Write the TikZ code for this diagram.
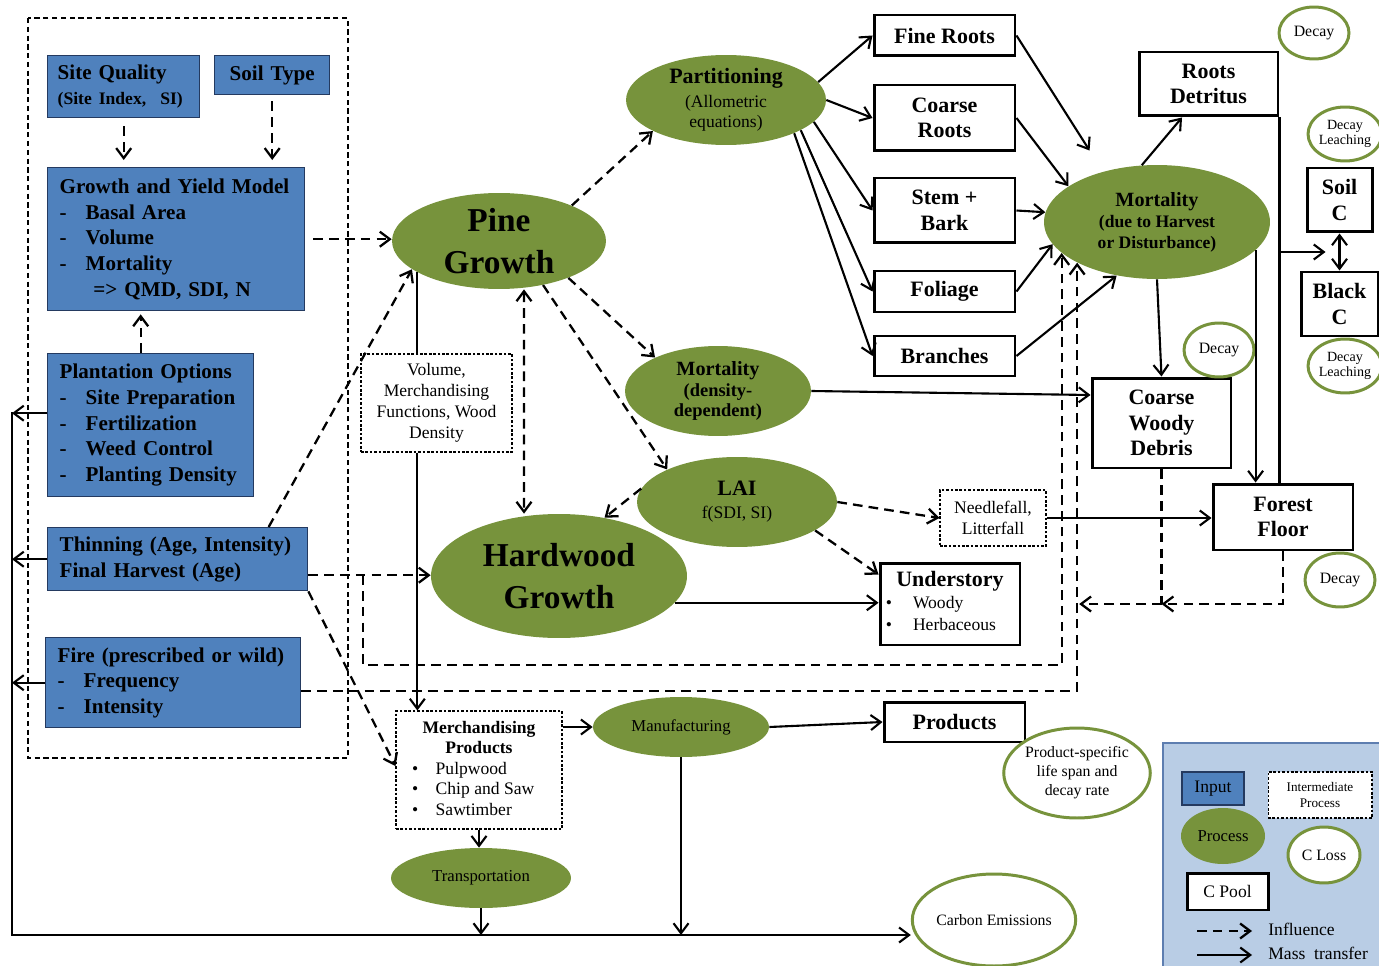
\documentclass[tikz,border=0pt]{standalone}
\usepackage{fontspec}
\setmainfont{Liberation Serif}
\usetikzlibrary{shapes.geometric,arrows.meta,calc}

\definecolor{inputblue}{RGB}{79,129,189}
\definecolor{inputline}{RGB}{36,58,96}
\definecolor{procgreen}{RGB}{119,147,60}
\definecolor{legendblue}{RGB}{185,205,229}
\definecolor{legendline}{RGB}{94,126,176}

\newcommand{\dashitem}{-\hspace{0.9em}}

\tikzset{
	>={Straight Barb[length=2mm,width=3mm]},
	inputbox/.style={draw=inputline, line width=0.8pt, fill=inputblue, align=left, inner xsep=0.24cm, inner ysep=0pt, font=\bfseries\fontsize{12}{14.6}\selectfont},
	process/.style={ellipse, fill=procgreen, inner sep=0pt, align=center},
	pool/.style={draw, line width=1.7pt, fill=white, inner sep=0pt, align=center, font=\bfseries\fontsize{12.5}{14.6}\selectfont},
	closs/.style={ellipse, draw=procgreen, line width=1.7pt, fill=white, inner sep=0pt, align=center, font=\fontsize{9}{10.8}\selectfont},
	interm/.style={draw, line width=0.6pt, dash pattern=on 1.5pt off 1pt, fill=white, inner sep=0pt, align=center, font=\fontsize{10}{11.9}\selectfont},
	infl/.style={->, line width=1.3pt, dash pattern=on 5.5pt off 3.5pt},
	mass/.style={->, line width=1.2pt}
}

\begin{document}
\begin{tikzpicture}[x=0.02cm, y=-0.02cm]
	\useasboundingbox ( 0, 0 ) rectangle ( 1379, 966 );

	% рамка входных данных
	\draw [dash pattern=on 3pt off 2pt, line width=0.7pt] ( 28, 18 ) rectangle ( 348, 758 );

	% входные данные
	\node [inputbox, anchor=north west, inner xsep=0.2cm, text width=2.64cm, minimum height=1.24cm] (sq) at ( 47, 55 ) {Site Quality\\{\fontsize{10}{12}\selectfont (Site Index,\ \ SI)}};
	\node [inputbox, anchor=north west, text width=1.82cm, minimum height=0.78cm, align=center] (soil) at ( 214, 55 ) {Soil Type};
	\node [inputbox, anchor=north west, text width=4.66cm, minimum height=2.86cm] (gym) at ( 47, 167 ) {Growth and Yield Model\\\dashitem Basal Area\\\dashitem Volume\\\dashitem Mortality\\\hspace*{1.6em}=> QMD, SDI, N};
	\node [inputbox, anchor=north west, text width=3.64cm, minimum height=2.86cm] (plant) at ( 47, 353 ) {Plantation Options\\\dashitem Site Preparation\\\dashitem Fertilization\\\dashitem Weed Control\\\dashitem Planting Density};
	\node [inputbox, anchor=north west, text width=4.72cm, minimum height=1.26cm] (thin) at ( 47, 527 ) {Thinning (Age, Intensity)\\Final Harvest (Age)};
	\node [inputbox, anchor=north west, text width=4.62cm, minimum height=1.80cm] (fire) at ( 45, 637 ) {Fire (prescribed or wild)\\\dashitem Frequency\\\dashitem Intensity};

	% процессы
	\node [process, minimum width=4.28cm, minimum height=1.92cm, font=\bfseries\fontsize{19}{23.5}\selectfont] (pine) at ( 499, 241 ) {Pine\\Growth};
	\node [process, minimum width=5.12cm, minimum height=2.48cm, font=\bfseries\fontsize{19}{23.5}\selectfont] (hard) at ( 559, 576 ) {Hardwood\\Growth};
	\node [process, minimum width=4.00cm, minimum height=1.80cm, font=\fontsize{10}{11.5}\selectfont] (part) at ( 726, 100 ) {{\bfseries\fontsize{12.5}{14}\selectfont Partitioning}\\[2pt](Allometric\\equations)};
	\node [process, minimum width=3.72cm, minimum height=1.80cm, font=\bfseries\fontsize{10.5}{11.9}\selectfont] (mortd) at ( 718, 391 ) {{\fontsize{11.5}{12}\selectfont Mortality}\\(density-\\dependent)};
	\node [process, minimum width=4.00cm, minimum height=1.80cm, font=\fontsize{10}{12}\selectfont] (lai) at ( 737, 502 ) {{\bfseries\fontsize{12.5}{14}\selectfont LAI}\\[1pt]f(SDI, SI)};
	\node [process, minimum width=4.52cm, minimum height=2.28cm, font=\bfseries\fontsize{10}{11.9}\selectfont] (morth) at ( 1157, 222 ) {{\fontsize{11.5}{12}\selectfont Mortality}\\(due to Harvest\\or Disturbance)};
	\node [process, minimum width=3.52cm, minimum height=1.20cm, font=\fontsize{9.5}{11}\selectfont] (manu) at ( 681, 727 ) {Manufacturing};
	\node [process, minimum width=3.60cm, minimum height=1.20cm, font=\fontsize{9.5}{11}\selectfont] (trans) at ( 481, 878 ) {Transportation};

	% промежуточные процессы
	\node [interm, minimum width=3.02cm, minimum height=1.96cm] (vol) at ( 436.5, 403 ) {Volume,\\Merchandising\\Functions, Wood\\Density};
	\node [interm, minimum width=2.12cm, minimum height=1.12cm] (needle) at ( 993, 518 ) {Needlefall,\\Litterfall};
	\node [interm, minimum width=3.32cm, minimum height=2.36cm, font=\fontsize{10}{11.7}\selectfont] (merch) at ( 479, 770 ) {\begin{tabular}{@{}c@{\hspace{10pt}}l@{}}\multicolumn{2}{c}{\bfseries Merchandising}\\\multicolumn{2}{c}{\bfseries Products}\\\textbullet & Pulpwood\\\textbullet & Chip and Saw\\\textbullet & Sawtimber\end{tabular}};

	% пулы углерода
	\node [pool, minimum width=2.82cm, minimum height=0.82cm] (fine) at ( 944.5, 35.5 ) {Fine Roots};
	\node [pool, minimum width=2.82cm, minimum height=1.32cm] (coarse) at ( 944.5, 118 ) {Coarse\\Roots};
	\node [pool, minimum width=2.82cm, minimum height=1.30cm] (stem) at ( 944.5, 210.5 ) {Stem +\\Bark};
	\node [pool, minimum width=2.82cm, minimum height=0.82cm] (foliage) at ( 944.5, 291.5 ) {Foliage};
	\node [pool, minimum width=2.82cm, minimum height=0.80cm] (branch) at ( 944.5, 356 ) {Branches};
	\node [pool, minimum width=2.78cm, minimum height=1.28cm] (rootsd) at ( 1208.5, 84 ) {Roots\\Detritus};
	\node [pool, minimum width=1.30cm, minimum height=1.28cm] (soilc) at ( 1339.5, 200 ) {Soil\\C};
	\node [pool, minimum width=1.54cm, minimum height=1.28cm] (blackc) at ( 1339.5, 304 ) {Black\\C};
	\node [pool, minimum width=2.78cm, minimum height=1.80cm] (cwd) at ( 1161.5, 423 ) {Coarse\\Woody\\Debris};
	\node [pool, minimum width=2.80cm, minimum height=1.32cm] (ffloor) at ( 1283, 517 ) {Forest\\Floor};
	\node [pool, minimum width=2.80cm, minimum height=1.64cm, font=\fontsize{10}{12.4}\selectfont] (under) at ( 950, 604 ) {\begin{tabular}{@{}c@{\hspace{12pt}}l@{}}\multicolumn{2}{c}{\bfseries\fontsize{12.5}{14}\selectfont Understory}\\\textbullet & Woody\\\textbullet & Herbaceous\end{tabular}};
	\node [pool, minimum width=2.82cm, minimum height=0.80cm] (products) at ( 954.5, 722 ) {Products};

	% потери углерода
	\node [closs, minimum width=1.40cm, minimum height=1.04cm] (decaya) at ( 1314, 33 ) {Decay};
	\node [closs, minimum width=1.28cm, minimum height=1.08cm, font=\fontsize{8}{9}\selectfont] (decayla) at ( 1345, 134 ) {Decay\\Leaching};
	\node [closs, minimum width=1.40cm, minimum height=1.08cm] (decayb) at ( 1219, 350 ) {Decay};
	\node [closs, minimum width=1.28cm, minimum height=1.08cm, font=\fontsize{8}{9}\selectfont] (decaylb) at ( 1345, 366 ) {Decay\\Leaching};
	\node [closs, minimum width=1.40cm, minimum height=1.08cm] (decayc) at ( 1340, 580 ) {Decay};
	\node [closs, minimum width=2.64cm, minimum height=1.80cm] (prodlife) at ( 1077, 773 ) {Product-specific\\life span and\\decay rate};
	\node [closs, minimum width=2.64cm, minimum height=1.84cm] (carbon) at ( 994, 920 ) {Carbon Emissions};

	% вспомогательные точки
	\coordinate (rail) at ( 12, 412 );
	\coordinate (railend) at ( 12, 935 );
	\coordinate (loopin) at ( 363, 665 );
	\coordinate (cwdret) at ( 1161.5, 604 );
	\coordinate (plantup) at ([xshift=-0.2cm]plant.north);
	\coordinate (plantout) at ([yshift=0.24cm]plant.west);
	\coordinate (thinout) at ([yshift=-0.32cm]thin.east);
	\coordinate (fireout) at ([yshift=-0.16cm]fire.east);
	\coordinate (pf) at (pine.201);
	\coordinate (scmid) at ($(soilc.south)!0.5!(blackc.north)$);

	% влияние
	\draw [infl, shorten <=0.16cm, shorten >=0.14cm] (sq.south) -- (sq.south |- gym.north);
	\draw [infl, shorten <=0.12cm, shorten >=0.14cm] (soil.south) -- (soil.south |- gym.north);
	\draw [infl, shorten >=0.06cm] (plantup) -- (plantup |- gym.south);
	\draw [infl, shorten <=0.16cm] (gym.east) -- (gym.east -| pine.west);
	\draw [infl] ([xshift=1.82cm]thin.north) -- (pine.198);
	\draw [infl] (thinout) -- (thinout -| hard.west);
	\draw [infl] (thinout -| loopin) -- (loopin) -| (morth.198);
	\draw [infl] (fireout) -| (morth.207);
	\draw [infl] (thin.south east) -- ([yshift=0.08cm]merch.west);
	\draw [infl] (pine.26) -- (part.203);
	\draw [infl] (pine.-28) -- (mortd.152);
	\draw [infl] (pine.-45) -- (lai.155);
	\draw [infl, <->] ([xshift=0.5cm]pine.south) -- ([xshift=-0.7cm]hard.north);
	\draw [infl] (lai.172) -- (hard.52);
	\draw [infl] (lai.east) -- (needle.west);
	\draw [infl] (lai.-20) -- ([yshift=-0.26cm]under.north west);
	\draw [infl] (ffloor.south) |- (cwdret);
	\draw [line width=1.3pt, dash pattern=on 5.5pt off 3.5pt] (cwd.south) -- (cwdret);
	\draw [infl, shorten >=0.04cm] (cwdret) -- (cwdret -| morth.207);

	% перенос массы
	\draw [mass] (part.11) -- (fine.west);
	\draw [mass] (part.east) -- (coarse.west);
	\draw [mass] (part.-14) -- (stem.west);
	\draw [mass] (part.-22) -- (foliage.west);
	\draw [mass] (part.-26) -- (branch.west);
	\draw [mass, shorten >=0.5cm] (fine.east) -- (morth.137);
	\draw [mass] (coarse.east) -- (morth.158);
	\draw [mass] (stem.east) -- (morth.175);
	\draw [mass] (foliage.east) -- (morth.192);
	\draw [mass] (branch.east) -- (morth.233);
	\draw [mass] (morth.105) -- ([xshift=-0.53cm]rootsd.south);
	\draw [mass] (morth.south) -- (cwd.north);
	\draw [mass] (morth.-16) -- (morth.-16 |- ffloor.north);
	\draw [line width=1.2pt] (rootsd.south east) -- (rootsd.south east |- ffloor.north);
	\draw [mass, shorten >=0.28cm] (rootsd.south east |- scmid) -- (scmid);
	\draw [mass, <->] (soilc.south) -- (blackc.north);
	\draw [mass] (mortd.east) -- ([yshift=0.56cm]cwd.west);
	\draw [mass] (needle.east) -- (needle.east -| ffloor.west);
	\draw [mass] (hard.-13) -- (hard.-13 -| under.west);
	\draw [line width=1.2pt] (pf) -- (pf |- vol.north);
	\draw [mass] (pf |- vol.south) -- (pf |- merch.north);
	\draw [mass] (merch.east |- manu.west) -- (manu.west);
	\draw [mass] (manu.east) -- (products.west);
	\draw [mass] (merch.south) -- (merch.south |- trans.north);
	\draw [mass] (trans.south) -- (trans.south |- railend);
	\draw [mass] (manu.south) -- (manu.south |- railend);
	\draw [mass] (plantout) -- (plantout -| rail);
	\draw [mass] (thin.west) -- (thin.west -| rail);
	\draw [mass] (fire.west) -- (fire.west -| rail);
	\draw [mass] (rail) -- (railend) -- (railend -| carbon.west);

	% легенда
	\draw [draw=legendline, line width=1.6pt, fill=legendblue] ( 1163, 743 ) rectangle ( 1384, 971 );
	\node [inputbox, minimum width=1.24cm, minimum height=0.66cm, inner xsep=0pt, font=\fontsize{10}{12}\selectfont] (lgin) at ( 1213, 788.5 ) {Input};
	\node [interm, minimum width=2.08cm, minimum height=0.92cm, font=\fontsize{7.5}{9}\selectfont] (lginter) at ( 1320, 795 ) {Intermediate\\Process};
	\node [process, minimum width=1.68cm, minimum height=1.12cm, font=\fontsize{9.5}{11}\selectfont] (lgproc) at ( 1223, 836 ) {Process};
	\node [closs, minimum width=1.44cm, minimum height=1.12cm] (lgloss) at ( 1324, 855 ) {C Loss};
	\node [pool, minimum width=1.62cm, minimum height=0.74cm, font=\fontsize{10}{12}\selectfont] (lgpool) at ( 1227.5, 891.5 ) {C Pool};
	\coordinate (lgia) at ( 1197, 931 );
	\coordinate (lgib) at ( 1252, 931 );
	\coordinate (lgma) at ( 1197, 955 );
	\coordinate (lgmb) at ( 1252, 955 );
	\draw [infl] (lgia) -- (lgib);
	\draw [mass] (lgma) -- (lgmb);
	\node [anchor=west, inner sep=0pt, font=\fontsize{10}{12}\selectfont] (lginfl) at ( 1268, 929 ) {Influence};
	\node [anchor=west, inner sep=0pt, font=\fontsize{10}{12}\selectfont] (lgmass) at ( 1268, 953 ) {Mass\ \ transfer};
\end{tikzpicture}
\end{document}
